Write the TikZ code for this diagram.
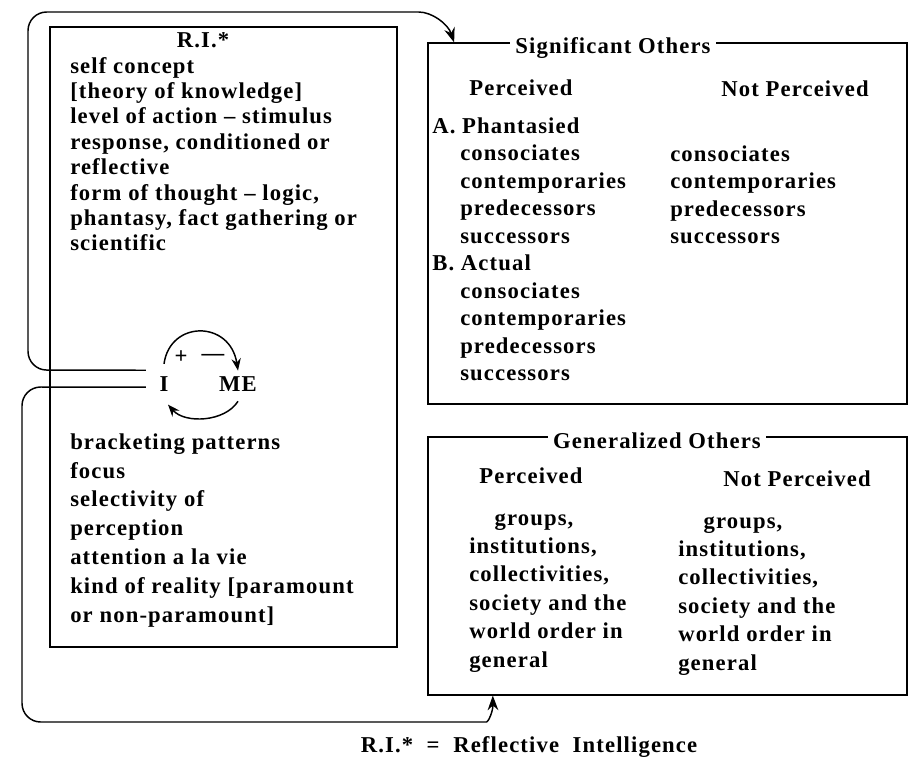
\documentclass[tikz,border=0pt]{standalone}
\usepackage{fontspec}
\setmainfont{Liberation Serif}
\newfontfamily\scanfont{Liberation Serif}[LetterSpace=5]
\usetikzlibrary{arrows.meta}
\newcommand{\tnode}[4][]{\node [txt,#1] (#2) at (#3) {#4}}
\newcommand{\lsize}[1]{\scanfont\bfseries\fontsize{17}{#1}\selectfont}

\tikzset{
  txt/.style={inner sep=0pt, anchor=base west, align=left, font=\lsize{19}},
  frame/.style={draw, line width=0.8pt, inner sep=0pt},
  ttl/.style={txt, anchor=center, fill=white, inner sep=4pt},
  flow/.style={line width=1.1pt, -{Stealth[length=11pt,width=8pt]}},
  cyc/.style={line width=1.1pt, -{Stealth[length=9pt,width=7pt]}},
}

\begin{document}
\begin{tikzpicture}[x=0.75pt,y=-0.75pt]

\useasboundingbox (0,0) rectangle (909,768);

% boxes
\node [frame, minimum width=260.25pt, minimum height=465pt] (ribox) at (223.5,337) {};
\node [frame, minimum width=359.25pt, minimum height=270.75pt] (sig) at (667.5,223.5) {};
\node [frame, minimum width=359.25pt, minimum height=193.5pt] (gen) at (667.5,566) {};

% reflective intelligence (base = last line)
\tnode[anchor=base]{ri}{203,47}{R.I.*};
\tnode[font=\lsize{19.05}]{upper}{70,250.8}{self concept\\{}[theory of knowledge]\\level of action – stimulus\\response, conditioned or\\reflective\\form of thought – logic,\\phantasy, fact gathering or\\scientific};
\tnode[anchor=base]{I}{164,391}{I};
\tnode[anchor=base]{ME}{238,391}{ME};
\tnode[anchor=center]{plus}{181,357}{+};
\tnode[anchor=center]{minus}{213,357}{—};
\tnode[font=\lsize{21.6}]{lower}{70,622}{bracketing patterns\\focus\\selectivity of\\perception\\attention a la vie\\kind of reality [paramount\\or non-paramount]};

\draw[cyc] ([yshift=9pt]I.north) .. controls (170,320) and (230,320) .. ([yshift=4pt]ME.north);
\draw[cyc] ([yshift=-7.5pt]ME.south) .. controls (225,422) and (185,424) .. ([xshift=3pt,yshift=-10pt]I.south);

% significant others
\node [ttl] (sigt) at (613,48) {Significant Others};
\tnode[anchor=base]{sigp}{521,95}{Perceived};
\tnode[anchor=base]{signp}{795,96}{Not Perceived};
\tnode{sigA}{432,133}{A. Phantasied};
\tnode[font=\lsize{20.6}]{sigAl}{460,243}{consociates\\contemporaries\\predecessors\\successors};
\tnode{sigB}{432,270.5}{B. Actual};
\tnode[font=\lsize{20.6}]{sigBl}{460,380.5}{consociates\\contemporaries\\predecessors\\successors};
\tnode[font=\lsize{20.6}]{sigNl}{670,243.5}{consociates\\contemporaries\\predecessors\\successors};

% generalized others
\node [ttl] (gent) at (657,441) {Generalized Others};
\tnode[anchor=base]{genp}{531,483}{Perceived};
\tnode[anchor=base]{gennp}{797,486}{Not Perceived};
\tnode[font=\lsize{21.3}]{genl}{469,667}{\hspace*{19pt}groups,\\institutions,\\collectivities,\\society and the\\world order in\\general};
\tnode[font=\lsize{21.3}]{genr}{678,670}{\hspace*{19pt}groups,\\institutions,\\collectivities,\\society and the\\world order in\\general};

% connectors
\draw[flow, rounded corners=14pt] ([xshift=-10pt,yshift=10pt]I.west) -- (28,370) -- (28,12) -- (400,12)
  .. controls (432,12) and (448,24) .. ([xshift=20pt]sig.north west);
\draw[flow, rounded corners=14pt] ([xshift=-10pt,yshift=-2.6pt]I.west) -- (22,387) -- (22,722) -- (468,722)
  .. controls (488,722) and (493,712) .. ([xshift=49pt]gen.south west);

\tnode[anchor=base]{cap}{529,752}{R.I.*\ \ =\ \ Reflective\ \ Intelligence};

\end{tikzpicture}
\end{document}
